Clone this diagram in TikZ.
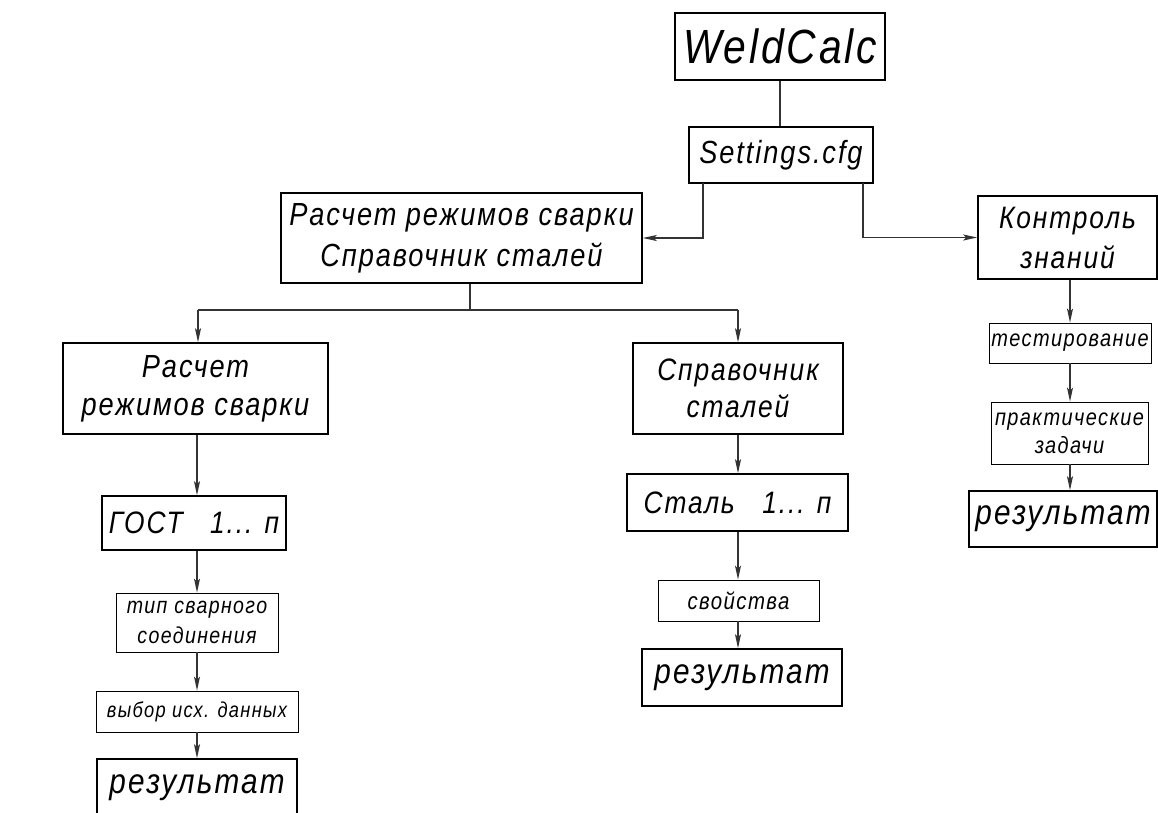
\documentclass[tikz,border=0pt]{standalone}
\usepackage{fontspec}
\setmainfont{Liberation Sans}[FakeStretch=0.85,LetterSpace=6]
\usetikzlibrary{arrows.meta}
\newcommand\fs[2]{\fontsize{#1}{#2}\selectfont\itshape}
\begin{document}
\begin{tikzpicture}[x=1pt,y=-1pt,
  box/.style={draw, line width=1.6pt, inner sep=0pt, align=center},
  sbox/.style={draw, line width=0.9pt, inner sep=0pt, align=center},
  conn/.style={draw=black!80, line width=1.2pt},
  arr/.style={conn, -{Stealth[length=14pt,width=6pt,inset=3pt]}}]
\useasboundingbox[fill=white] (0,0) rectangle (1158,812);

% nodes
\node[box, minimum width=210, minimum height=67, font=\fs{48}{50}] (wc) at (780,46.5) {WeldCalc};
\node[box, minimum width=184, minimum height=56, font=\fs{32}{36}] (set) at (781,155) {Settings.cfg};
\node[box, minimum width=361, minimum height=90, font=\fs{32}{41}] (main) at (461.5,238) {Расчет режимов сварки\\Справочник сталей};
\node[box, minimum width=179, minimum height=83, font=\fs{31}{40}] (ctrl) at (1067.5,237.5) {Контроль\\знаний};

\node[box, minimum width=265, minimum height=91, font=\fs{32}{38}] (rasch) at (195.5,388.5) {Расчет\\режимов сварки};
\node[box, minimum width=184, minimum height=54, font=\fs{31}{36}] (gost) at (194,523) {ГОСТ\ \ \ 1... п};
\node[sbox, minimum width=162, minimum height=59, font=\fs{23}{30}] (tip) at (197,622.5) {тип сварного\\соединения};
\node[sbox, minimum width=202, minimum height=41, font=\fs{21.5}{26}] (vybor) at (197,711.5) {выбор исх. данных};
\node[box, minimum width=200, minimum height=58, font=\fs{35}{40}] (resL) at (197,788) {результат};

\node[box, minimum width=210, minimum height=91, font=\fs{31}{37}] (sprav) at (738,388.5) {Справочник\\сталей};
\node[box, minimum width=221, minimum height=57, font=\fs{31}{36}] (stal) at (737.5,502.5) {Сталь\ \ \ 1... п};
\node[sbox, minimum width=161, minimum height=41, font=\fs{24}{28}] (svo) at (738.5,600.5) {свойства};
\node[box, minimum width=200, minimum height=57, font=\fs{35}{40}] (resM) at (742,677.5) {результат};

\node[sbox, minimum width=162, minimum height=40, font=\fs{23.5}{28}] (test) at (1070,343) {тестирование};
\node[sbox, minimum width=157, minimum height=62, font=\fs{23.5}{28}] (prakt) at (1069.5,433) {практические\\задачи};
\node[box, minimum width=188, minimum height=56, font=\fs{35}{40}] (resR) at (1063,519) {результат};

% helper coordinates
\coordinate (sl) at (703,183);
\coordinate (sr) at (863,183);
\coordinate (bus) at (470,310);
\coordinate (busL) at (198,310);
\coordinate (busR) at (738,310);
\coordinate (colL) at (197,0);
\coordinate (colM) at (738,0);
\coordinate (colR) at (1070,0);

% connectors
\draw[conn] (wc.south) -- (wc.south |- set.north);
\draw[arr] (sl) |- (main.east);
\draw[arr] (sr) |- (ctrl.west);
\draw[conn] (main.south -| bus) -- (bus);
\draw[conn] (busL) -- (busR);
\draw[arr] (busL) -- (busL |- rasch.north);
\draw[arr] (busR) -- (busR |- sprav.north);

\draw[arr] (rasch.south -| colL) -- (gost.north -| colL);
\draw[arr] (gost.south -| colL) -- (tip.north -| colL);
\draw[arr] (tip.south -| colL) -- (vybor.north -| colL);
\draw[arr] (vybor.south -| colL) -- (resL.north -| colL);

\draw[arr] (sprav.south -| colM) -- (stal.north -| colM);
\draw[arr] (stal.south -| colM) -- (svo.north -| colM);
\draw[arr] (svo.south -| colM) -- (resM.north -| colM);

\draw[arr] (ctrl.south -| colR) -- (test.north -| colR);
\draw[arr] (test.south -| colR) -- (prakt.north -| colR);
\draw[arr] (prakt.south -| colR) -- (resR.north -| colR);
\end{tikzpicture}
\end{document}
